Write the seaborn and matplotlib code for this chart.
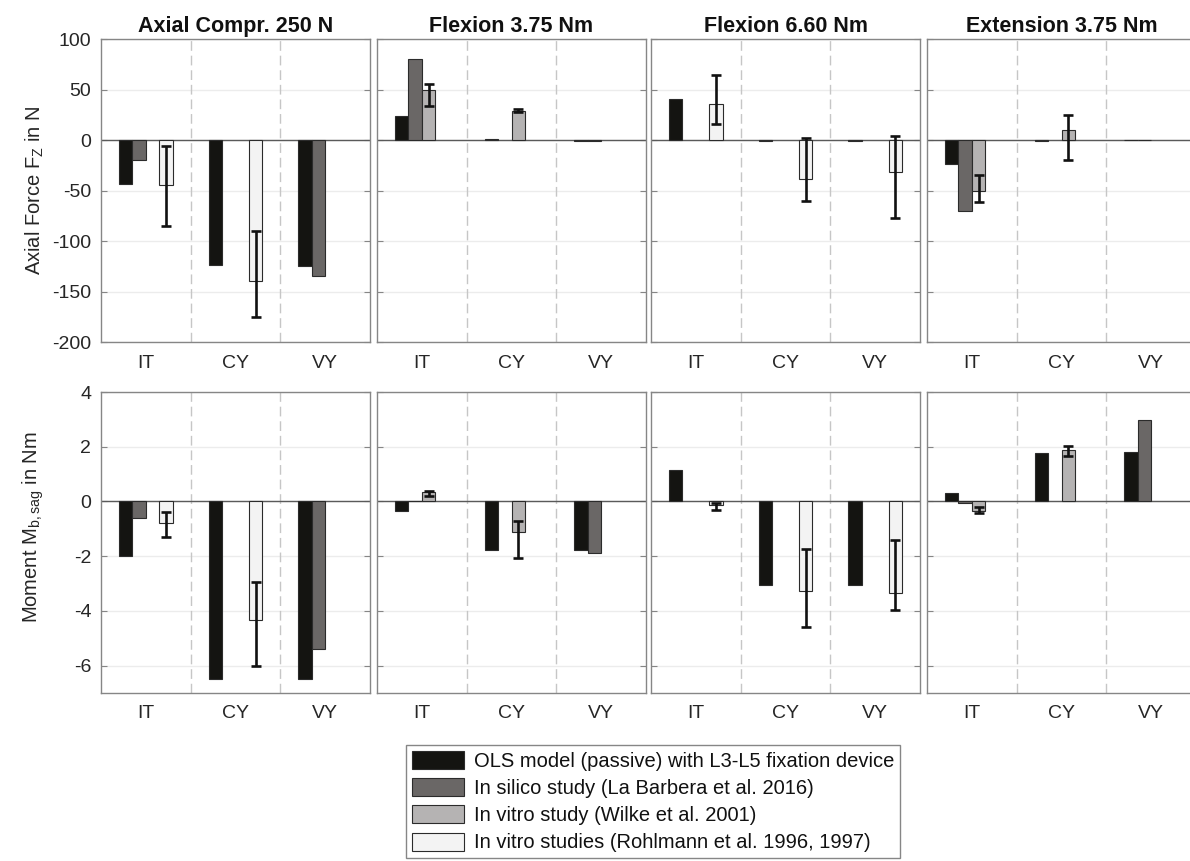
import numpy as np
import pandas as pd
import matplotlib
matplotlib.use("Agg")
import matplotlib.pyplot as plt
from matplotlib.patches import Patch
from matplotlib.colors import to_rgba
import seaborn as sns

nan = np.nan

sites = ["IT", "CY", "VY"]
load_cases = ["Axial Compr. 250 N", "Flexion 3.75 Nm", "Flexion 6.60 Nm", "Extension 3.75 Nm"]
series_names = [
    "OLS model (passive) with L3-L5 fixation device",
    "In silico study (La Barbera et al. 2016)",
    "In vitro study (Wilke et al. 2001)",
    "In vitro studies (Rohlmann et al. 1996, 1997)",
]
series_colors = ["#141411", "#6a6766", "#b5b3b3", "#f3f3f3"]

# Axial force F_Z in N; one row per load case, values at IT, CY, VY
force_ols = [[-44, -124, -125], [24, 0.6, -0.6], [41, -0.6, -0.6], [-24, -1.0, 0.4]]
force_silico = [[-20, nan, -135], [80, nan, -0.6], [nan, nan, nan], [-70, nan, 0.4]]
force_wilke = [[nan, nan, nan], [50, 29, nan], [nan, nan, nan], [-50, 10, nan]]
force_wilke_lo = [[nan, nan, nan], [34, 27.5, nan], [nan, nan, nan], [-61, -20, nan]]
force_wilke_hi = [[nan, nan, nan], [55, 31, nan], [nan, nan, nan], [-35, 25, nan]]
force_rohl = [[-45, -140, nan], [nan, nan, nan], [36, -39, -32], [nan, nan, nan]]
force_rohl_lo = [[-85, -175, nan], [nan, nan, nan], [15.5, -60, -77], [nan, nan, nan]]
force_rohl_hi = [[-6, -90, nan], [nan, nan, nan], [64, 2, 4], [nan, nan, nan]]

# Sagittal bending moment M_b,sag in Nm
moment_ols = [[-2.0, -6.5, -6.5], [-0.34, -1.76, -1.78], [1.15, -3.05, -3.05], [0.3, 1.78, 1.8]]
moment_silico = [[-0.6, nan, -5.4], [0.02, nan, -1.9], [nan, nan, nan], [-0.05, nan, 2.97]]
moment_wilke = [[nan, nan, nan], [0.33, -1.1, nan], [nan, nan, nan], [-0.36, 1.88, nan]]
moment_wilke_lo = [[nan, nan, nan], [0.2, -2.05, nan], [nan, nan, nan], [-0.43, 1.66, nan]]
moment_wilke_hi = [[nan, nan, nan], [0.38, -0.7, nan], [nan, nan, nan], [-0.2, 2.02, nan]]
moment_rohl = [[-0.77, -4.35, nan], [nan, nan, nan], [-0.12, -3.27, -3.35], [nan, nan, nan]]
moment_rohl_lo = [[-1.3, -6.0, nan], [nan, nan, nan], [-0.3, -4.6, -3.95], [nan, nan, nan]]
moment_rohl_hi = [[-0.4, -2.95, nan], [nan, nan, nan], [-0.05, -1.75, -1.4], [nan, nan, nan]]

force_ticks = [100, 50, 0, -50, -100, -150, -200]
moment_ticks = [4, 2, 0, -2, -4, -6]
force_lim = (-200, 100)
moment_lim = (-7, 4)

# ---- long-form table -------------------------------------------------------
quantities = {
    "force": [
        (force_ols, None, None),
        (force_silico, None, None),
        (force_wilke, force_wilke_lo, force_wilke_hi),
        (force_rohl, force_rohl_lo, force_rohl_hi),
    ],
    "moment": [
        (moment_ols, None, None),
        (moment_silico, None, None),
        (moment_wilke, moment_wilke_lo, moment_wilke_hi),
        (moment_rohl, moment_rohl_lo, moment_rohl_hi),
    ],
}
rows = []
for q, series_data in quantities.items():
    for s_name, (vals, lo, hi) in zip(series_names, series_data):
        for k, case in enumerate(load_cases):
            for i, site in enumerate(sites):
                rows.append({
                    "quantity": q, "case": case, "site": site, "series": s_name,
                    "value": vals[k][i],
                    "lo": lo[k][i] if lo is not None else nan,
                    "hi": hi[k][i] if hi is not None else nan,
                })
df = pd.DataFrame(rows).dropna(subset=["value"])

# ---- style -----------------------------------------------------------------
sns.set_style("white")
plt.rcParams["font.family"] = ["Liberation Sans", "DejaVu Sans"]
plt.rcParams["mathtext.fontset"] = "custom"
plt.rcParams["mathtext.rm"] = "Liberation Sans"
plt.rcParams["mathtext.default"] = "regular"
plt.rcParams["axes.unicode_minus"] = False

palette = dict(zip(series_names, series_colors))
frame_col = "#868686"
text_col = "#262626"

W, H = 1190, 861
fig = plt.figure(figsize=(W / 100, H / 100), dpi=100)

col_left = [101, 377, 651, 927]
col_width = 269
row_box = [(39, 342), (392, 693)]

for r, q in enumerate(["force", "moment"]):
    top, bottom = row_box[r]
    ticks = force_ticks if q == "force" else moment_ticks
    lim = force_lim if q == "force" else moment_lim
    for c, case in enumerate(load_cases):
        ax = fig.add_axes([col_left[c] / W, 1 - bottom / H, col_width / W, (bottom - top) / H])
        sub = df[(df["quantity"] == q) & (df["case"] == case)]
        sns.barplot(
            data=sub, x="site", y="value", hue="series",
            order=sites, hue_order=series_names, palette=palette,
            width=0.6, saturation=1, errorbar=None, legend=False,
            edgecolor="#2b2b2b", linewidth=0.8, zorder=3, ax=ax,
        )

        # locate each drawn bar so error bars sit on it
        centers = {}
        for p in ax.patches:
            fc = p.get_facecolor()
            for s_name, col in palette.items():
                if np.allclose(fc[:3], to_rgba(col)[:3], atol=0.01):
                    idx = int(round(p.get_x() + p.get_width() / 2))
                    centers[(sites[idx], s_name)] = p.get_x() + p.get_width() / 2
        for _, row in sub.dropna(subset=["lo", "hi"]).iterrows():
            x = centers[(row["site"], row["series"])]
            v = row["value"]
            ax.errorbar(
                x, v, yerr=[[v - row["lo"]], [row["hi"] - v]],
                fmt="none", ecolor="#111111", elinewidth=1.9,
                capsize=3.8, capthick=1.9, zorder=5,
            )

        ax.axhline(0, color="#5a5a5a", lw=1.0, zorder=2)
        for xs in (0.5, 1.5):
            ax.axvline(xs, color="#c6c6c6", lw=1.0, dashes=(7, 3.5), zorder=1)

        ax.set_xlim(-0.5, 2.5)
        ax.set_ylim(*lim)
        ax.set_yticks(ticks)
        ax.grid(axis="y", color="#ececec", lw=1.0, zorder=0)
        ax.grid(axis="x", visible=False)
        ax.set_axisbelow(True)
        if c == 0:
            ax.set_yticklabels([f"{t:g}" for t in ticks])
            if q == "force":
                ax.set_ylabel(r"Axial Force F$_{Z}$ in N", fontsize=14.5, color=text_col)
                ax.yaxis.set_label_coords(-0.205, 0.5)
            else:
                ax.set_ylabel(r"Moment M$_{b,sag}$ in Nm", fontsize=14.5, color=text_col)
                ax.yaxis.set_label_coords(-0.205, 0.55)
        else:
            ax.set_yticklabels([])
            ax.set_ylabel("")
        ax.set_xlabel("")
        ax.tick_params(axis="y", direction="in", left=True, right=True, length=4,
                       color=frame_col, labelsize=14, labelcolor=text_col, pad=7)
        ax.tick_params(axis="x", length=0, labelsize=14, labelcolor=text_col, pad=9)
        for sp in ax.spines.values():
            sp.set_visible(True)
            sp.set_color(frame_col)
            sp.set_linewidth(1.0)
        if r == 0:
            ax.set_title(case, fontsize=15.5, fontweight="bold", color="#111111", pad=5)

handles = [Patch(facecolor=col, edgecolor="#2b2b2b", linewidth=0.8) for col in series_colors]
leg = fig.legend(
    handles, series_names, loc="upper center",
    bbox_to_anchor=(653 / W, 1 - 745 / H), ncol=1, frameon=True, fancybox=False,
    edgecolor=frame_col, framealpha=1, fontsize=14.5, handlelength=2.6,
    handleheight=1.0, labelspacing=0.36, borderpad=0.3, handletextpad=0.45,
    borderaxespad=0,
)
leg.get_frame().set_linewidth(1.0)
for t in leg.get_texts():
    t.set_color("#111111")

fig.savefig("out.png", dpi=100)
